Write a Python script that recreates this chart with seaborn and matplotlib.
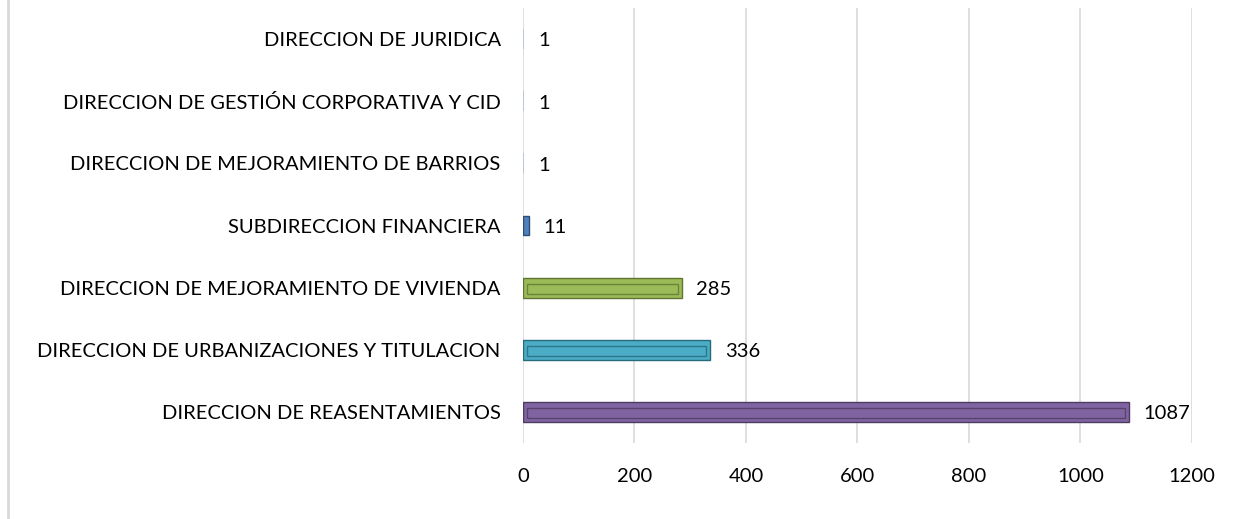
import numpy as np
import pandas as pd
import matplotlib
matplotlib.use("Agg")
import matplotlib.pyplot as plt
import seaborn as sns

# data (top to bottom as shown)
areas = ["DIRECCION DE JURIDICA",
         "DIRECCION DE GESTIÓN CORPORATIVA Y CID",
         "DIRECCION DE MEJORAMIENTO DE BARRIOS",
         "SUBDIRECCION FINANCIERA",
         "DIRECCION DE MEJORAMIENTO DE VIVIENDA",
         "DIRECCION DE URBANIZACIONES Y TITULACION",
         "DIRECCION DE REASENTAMIENTOS"]
counts = [1, 1, 1, 11, 285, 336, 1087]
bar_colors = ["#4F81BD", "#4F81BD", "#4F81BD", "#4F81BD", "#9BBB59", "#4BACC6", "#8064A2"]
edge_colors = ["#2C4D75", "#2C4D75", "#2C4D75", "#2C4D75", "#5F7530", "#276A7C", "#4D3B62"]
x_ticks = [0, 200, 400, 600, 800, 1000, 1200]

df = pd.DataFrame({"area": areas, "count": counts})

sns.set_style("white")
plt.rcParams["font.family"] = ["Lato", "DejaVu Sans"]

fig = plt.figure(figsize=(12.41, 5.19), dpi=100)
ax = fig.add_axes([0.4214, 0.1464, 0.5391, 0.8382])

sns.barplot(data=df, y="area", x="count", hue="area", palette=bar_colors,
            legend=False, width=0.32, orient="h", ax=ax, linewidth=1.0,
            saturation=1)
for bar, ec, v in zip(ax.patches, edge_colors, counts):
    bar.set_edgecolor(ec)
    if v < 5:
        bar.set_linewidth(0)
        bar.set_alpha(0.25)

# inner bevel line
ypos = np.arange(len(areas))
for y, v, ec in zip(ypos, counts, edge_colors):
    if v > 20:
        ax.barh(y + 0.02, v - 14, left=7, height=0.17, color="none",
                edgecolor=ec, linewidth=1.0, alpha=0.8)

for y, v in zip(ypos, counts):
    ax.text(v + 26, y + 0.03, str(v), va="center", ha="left", fontsize=14.5, color="#000000")

ax.set_xlim(0, 1200)
ax.set_ylim(len(areas) - 0.5, -0.5)
ax.set_xticks(x_ticks)
ax.set_xticklabels([str(t) for t in x_ticks])
ax.xaxis.grid(True, color="#D9D9D9", linewidth=1.2)
ax.set_axisbelow(True)
for s in ax.spines.values():
    s.set_visible(False)
ax.tick_params(axis="both", length=0, labelsize=14.5, colors="#000000")
ax.tick_params(axis="x", pad=18)
ax.tick_params(axis="y", pad=16)
ax.set_xlabel("")
ax.set_ylabel("")

# chart border on the left
fig.add_artist(plt.Line2D([0.0062, 0.0062], [0, 1], color="#D9D9D9", linewidth=2))

fig.savefig("out.png", dpi=100, facecolor="white")
